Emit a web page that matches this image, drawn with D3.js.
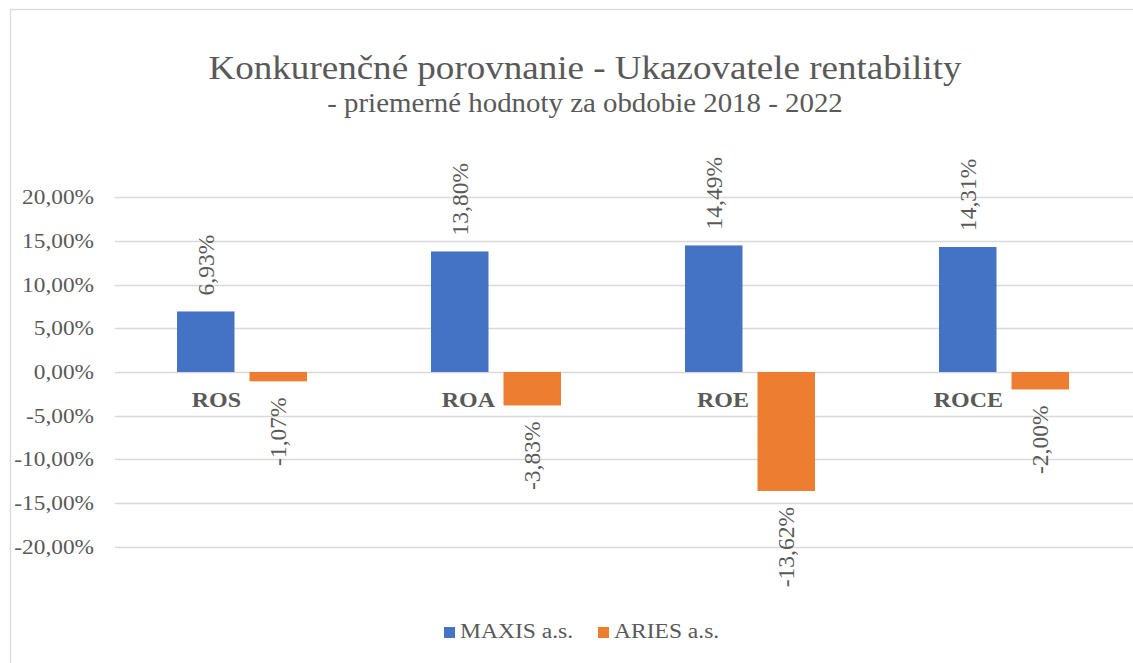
<!DOCTYPE html>
<html>
<head>
<meta charset="utf-8">
<script src="https://cdn.jsdelivr.net/npm/d3@7"></script>
<style>
    body { margin: 0; background: #fff; }
</style>
</head>
<body>
<div id="chart"></div>
<script>
// Chart data
const categories = ['ROS', 'ROA', 'ROE', 'ROCE'];
const seriesNames = ['MAXIS a.s.', 'ARIES a.s.'];
const maxisValues = [0.0693, 0.1380, 0.1449, 0.1431];
const ariesValues = [-0.0107, -0.0383, -0.1362, -0.0200];
const yTicks = [0.20, 0.15, 0.10, 0.05, 0, -0.05, -0.10, -0.15, -0.20];
const colors = ['#4472C4', '#ED7D31'];

const width = 1133;
const height = 663;
const serif = "'Liberation Serif', 'Times New Roman', serif";
const textColor = '#595959';
// the source picture is a bit wider than tall, so horizontal text gets stretched
const SX = 1.09;

const svg = d3.select('#chart').append('svg')
    .attr('width', width)
    .attr('height', height)
    .style('font-family', serif);

// chart area border (right/bottom run off the picture)
svg.append('rect')
    .attr('x', 10.5).attr('y', 9.5)
    .attr('width', 1150).attr('height', 700)
    .attr('fill', 'none')
    .attr('stroke', '#D9D9D9')
    .attr('stroke-width', 1.3);

// Title
svg.append('text')
    .attr('transform', `translate(585,79) scale(${SX},1)`)
    .attr('text-anchor', 'middle')
    .attr('fill', textColor)
    .style('font-size', '34px')
    .text('Konkurenčné porovnanie - Ukazovatele rentability');

svg.append('text')
    .attr('transform', `translate(585,112) scale(${SX},1)`)
    .attr('text-anchor', 'middle')
    .attr('fill', textColor)
    .style('font-size', '26.5px')
    .text('- priemerné hodnoty za obdobie 2018 - 2022');

const y = d3.scaleLinear()
    .domain([-0.2, 0.2])
    .range([546.7, 197.3]);

const x = d3.scaleBand()
    .domain(categories)
    .range([115, 1131]);

const xSub = d3.scaleBand()
    .domain(seriesNames)
    .range([0, x.bandwidth()])
    .paddingInner(0.207)
    .paddingOuter(0.855);

// Slovak style: comma decimal, plain hyphen for minus
const fmt = v => (v * 100).toFixed(2).replace('.', ',') + '%';

// gridlines
svg.append('g')
    .selectAll('line')
    .data(yTicks)
    .enter().append('line')
    .attr('x1', 115).attr('x2', 1133)
    .attr('y1', d => Math.round(y(d)) + 0.5)
    .attr('y2', d => Math.round(y(d)) + 0.5)
    .attr('stroke', '#D9D9D9')
    .attr('stroke-width', 1.3);

// y axis labels
svg.append('g')
    .selectAll('text')
    .data(yTicks)
    .enter().append('text')
    .attr('transform', d => `translate(94,${y(d)}) scale(${SX},1)`)
    .attr('dy', '0.33em')
    .attr('text-anchor', 'end')
    .attr('fill', textColor)
    .style('font-size', '21.4px')
    .text(d => fmt(d));

// bars
const rows = categories.map((c, i) => ({
    cat: c,
    values: [
        { name: seriesNames[0], value: maxisValues[i], color: colors[0] },
        { name: seriesNames[1], value: ariesValues[i], color: colors[1] }
    ]
}));

const groups = svg.selectAll('.group')
    .data(rows)
    .enter().append('g')
    .attr('class', 'group')
    .attr('transform', d => `translate(${x(d.cat)},0)`);

groups.selectAll('rect')
    .data(d => d.values)
    .enter().append('rect')
    .attr('x', d => xSub(d.name))
    .attr('width', xSub.bandwidth())
    .attr('y', d => y(Math.max(0, d.value)))
    .attr('height', d => Math.abs(y(d.value) - y(0)))
    .attr('fill', d => d.color);

// data labels, rotated
groups.selectAll('.dlabel')
    .data(d => d.values)
    .enter().append('text')
    .attr('class', 'dlabel')
    .attr('transform', d => {
        const cx = xSub(d.name) + xSub.bandwidth() / 2;
        const cy = d.value >= 0 ? y(d.value) - 16 : y(d.value) + 16;
        return `translate(${cx},${cy}) rotate(-90)`;
    })
    .attr('dy', '0.35em')
    .attr('text-anchor', d => d.value >= 0 ? 'start' : 'end')
    .attr('fill', textColor)
    .style('font-size', '23.5px')
    .text(d => fmt(d.value));

// category labels
groups.append('text')
    .attr('transform', `translate(${x.bandwidth() / 2 - 1},407) scale(${SX},1)`)
    .attr('text-anchor', 'end')
    .attr('fill', textColor)
    .style('font-size', '22px')
    .style('font-weight', 'bold')
    .text(d => d.cat);

// legend
const legendX = [444, 598];
const legend = svg.selectAll('.legend')
    .data(seriesNames)
    .enter().append('g')
    .attr('class', 'legend')
    .attr('transform', (d, i) => `translate(${legendX[i]},627)`);

legend.append('rect')
    .attr('width', 11).attr('height', 11)
    .attr('fill', (d, i) => colors[i]);

legend.append('text')
    .attr('transform', `translate(16,11) scale(${SX},1)`)
    .attr('fill', textColor)
    .style('font-size', '21.6px')
    .text(d => d);
</script>
</body>
</html>
